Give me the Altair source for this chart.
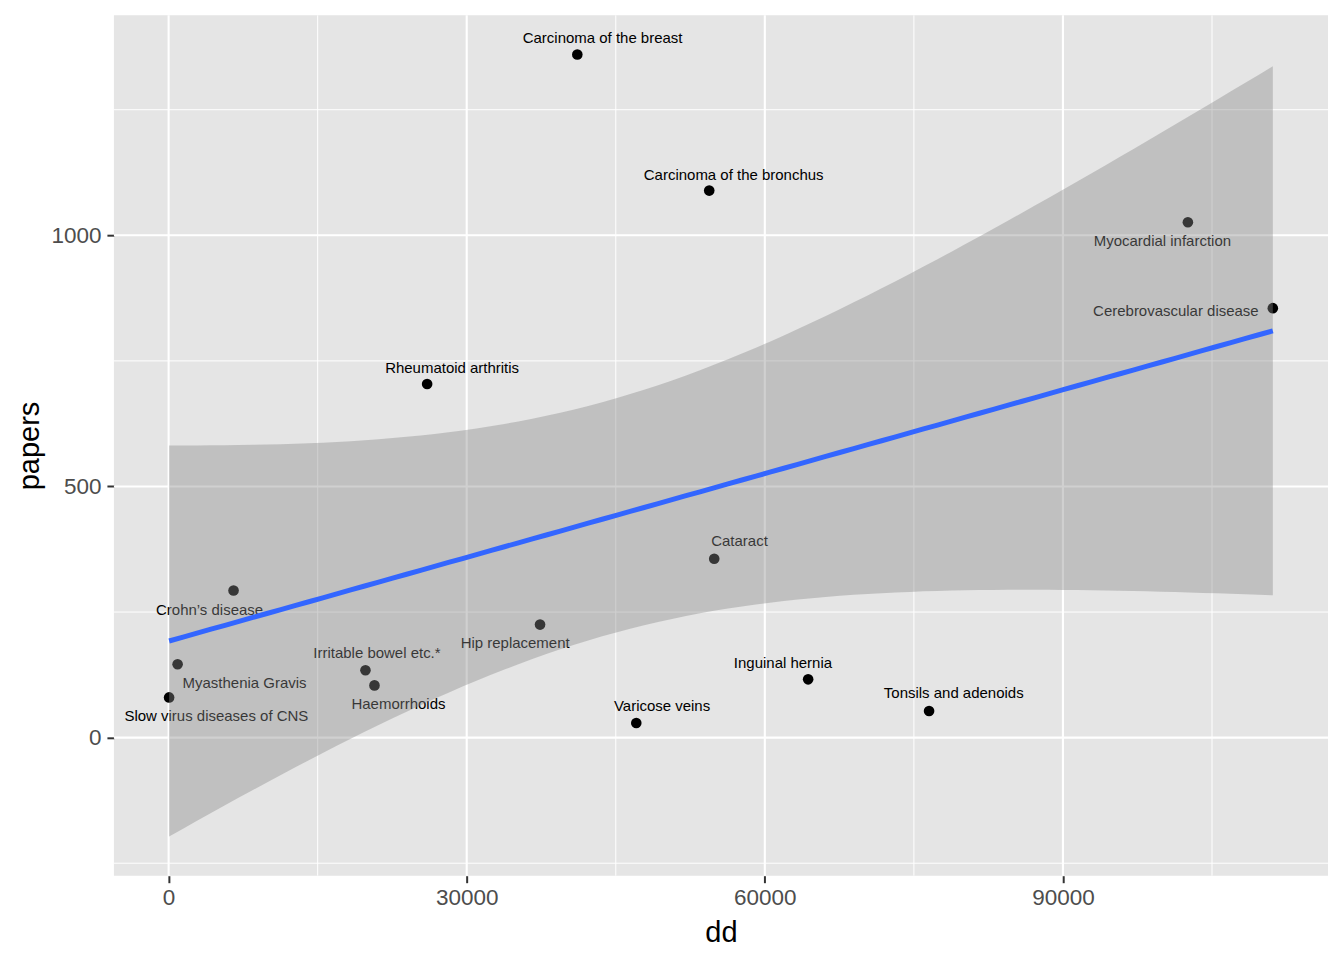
import altair as alt
import pandas as pd
import numpy as np

# ---- data ----
diseases = ["Slow virus diseases of CNS", "Myasthenia Gravis", "Crohn\u2019s disease",
            "Irritable bowel etc.*", "Haemorrhoids", "Rheumatoid arthritis",
            "Hip replacement", "Carcinoma of the breast", "Varicose veins",
            "Carcinoma of the bronchus", "Cataract", "Inguinal hernia",
            "Tonsils and adenoids", "Myocardial infarction", "Cerebrovascular disease"]
dd = [50, 905, 6536, 19811, 20716, 26016, 37380, 41130, 47064,
      54405, 54907, 64360, 76529, 102574, 111122]
papers = [80, 146, 293, 134, 104, 704, 225, 1360, 29,
          1089, 356, 116, 53, 1026, 855]
# label anchor positions (data units, as placed by the repel step)
label_dd = [4807, 7643, 4123, 20967, 23130, 28530, 34875, 43675, 49658,
            56865, 57452, 61826, 79011, 100010, 101368]
label_papers = [42.5, 108, 255, 168, 66, 736.5, 188.2, 1392, 63,
                1121, 391, 149, 88.8, 988, 849]

x_breaks = [0, 30000, 60000, 90000]
x_minor = [15000, 45000, 75000, 105000]
y_breaks = [0, 500, 1000]
y_minor = [-250, 250, 750, 1250]

# ---- linear model with 95% confidence band ----
x = np.array(dd, dtype=float)
y = np.array(papers, dtype=float)
n = len(x)
xbar, ybar = x.mean(), y.mean()
sxx = ((x - xbar) ** 2).sum()
b = ((x - xbar) * (y - ybar)).sum() / sxx
a = ybar - b * xbar
resid = y - (a + b * x)
s = np.sqrt((resid ** 2).sum() / (n - 2))
t_crit = 2.160369  # t(0.975, df=13)
xg = np.linspace(x.min(), x.max(), 80)
fit = a + b * xg
se = s * np.sqrt(1.0 / n + (xg - xbar) ** 2 / sxx)
band = pd.DataFrame({"dd": xg, "fit": fit, "lo": fit - t_crit * se, "hi": fit + t_crit * se})

# ggplot-like 5% expansion
xr = [x.min(), x.max()]
yr = [min(y.min(), band["lo"].min()), max(y.max(), band["hi"].max())]
xd = [xr[0] - 0.05 * (xr[1] - xr[0]), xr[1] + 0.05 * (xr[1] - xr[0])]
yd = [yr[0] - 0.05 * (yr[1] - yr[0]), yr[1] + 0.05 * (yr[1] - yr[0])]

pts = pd.DataFrame({"disease": diseases, "dd": dd, "papers": papers,
                    "lx": label_dd, "ly": label_papers})

FONT = "Liberation Sans"
xs = alt.Scale(domain=xd, nice=False, zero=False)
ys = alt.Scale(domain=yd, nice=False, zero=False)

x_axis = alt.Axis(values=x_breaks, format="d", title="dd", grid=False, domain=False,
                  tickColor="#333333", tickWidth=2, tickSize=7, labelPadding=4,
                  labelColor="#4D4D4D", labelFontSize=22.5, labelFont=FONT,
                  titleFont=FONT, titleFontSize=29, titleFontWeight="normal",
                  titleColor="#000000", titlePadding=9)
y_axis = alt.Axis(values=y_breaks, format="d", title="papers", grid=False, domain=False,
                  tickColor="#333333", tickWidth=2, tickSize=7, labelPadding=6,
                  labelColor="#4D4D4D", labelFontSize=22.5, labelFont=FONT,
                  titleFont=FONT, titleFontSize=29, titleFontWeight="normal",
                  titleColor="#000000", titlePadding=6)

minor_x = alt.Chart(pd.DataFrame({"v": x_minor})).mark_rule(color="white", strokeWidth=1).encode(
    x=alt.X("v:Q", scale=xs, axis=x_axis))
minor_y = alt.Chart(pd.DataFrame({"v": y_minor})).mark_rule(color="white", strokeWidth=1).encode(
    y=alt.Y("v:Q", scale=ys, axis=y_axis))
major_x = alt.Chart(pd.DataFrame({"v": x_breaks})).mark_rule(color="white", strokeWidth=2.1).encode(
    x=alt.X("v:Q", scale=xs))
major_y = alt.Chart(pd.DataFrame({"v": y_breaks})).mark_rule(color="white", strokeWidth=2.1).encode(
    y=alt.Y("v:Q", scale=ys))

points = alt.Chart(pts).mark_circle(size=113, color="black", opacity=1).encode(
    x=alt.X("dd:Q", scale=xs), y=alt.Y("papers:Q", scale=ys))
labels = alt.Chart(pts).mark_text(font=FONT, fontSize=15, color="black",
                                  align="center", baseline="middle").encode(
    x=alt.X("lx:Q", scale=xs), y=alt.Y("ly:Q", scale=ys), text="disease:N")

ribbon = alt.Chart(band).mark_area(color="#8A8A8A", opacity=0.4).encode(
    x=alt.X("dd:Q", scale=xs), y=alt.Y("lo:Q", scale=ys), y2="hi:Q")
line = alt.Chart(band).mark_line(color="#3366FF", strokeWidth=5).encode(
    x=alt.X("dd:Q", scale=xs), y=alt.Y("fit:Q", scale=ys))

chart = alt.layer(minor_x, minor_y, major_x, major_y, points, labels, ribbon, line).properties(
    width=1215, height=861,
    autosize=alt.AutoSizeParams(type="none"),
    padding={"left": 106, "top": 7, "right": 8, "bottom": 76},
).configure(background="white").configure_view(fill="#E5E5E5", stroke=None)

chart.save("out.html", embed_options={"renderer": "svg", "actions": False})
